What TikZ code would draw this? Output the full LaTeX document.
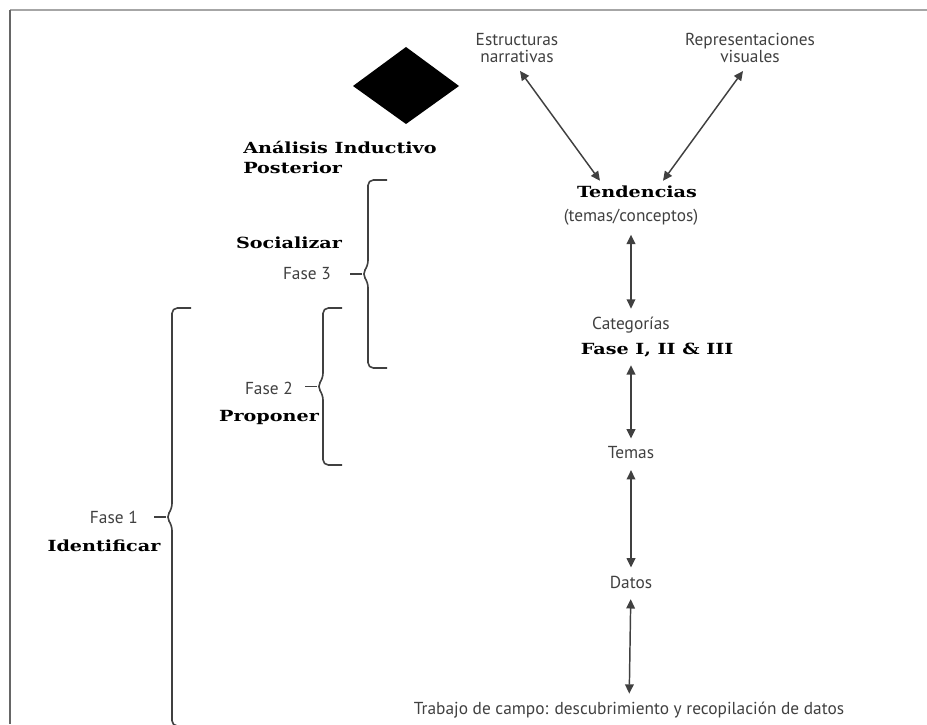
\documentclass[tikz,border=0pt]{standalone}
\usepackage{fontspec}
\setsansfont{PT Sans}
\newfontfamily\negrita{DejaVu Serif}[FakeStretch=1.25]
\usetikzlibrary{arrows.meta}

\newcommand{\llave}[3]
{   \draw[llave] ({#1+19},#2) -- (#1,#2) -- (#1,{(#2+#3)/2-8}) -- ({#1-6},{(#2+#3)/2}) -- (#1,{(#2+#3)/2+8}) -- (#1,#3) -- ({#1+19},#3);
    \draw[llave] ({#1-6},{(#2+#3)/2}) -- ({#1-18},{(#2+#3)/2});
}
\newcommand{\micolor}{black!75}

\begin{document}
\begin{tikzpicture}[x=0.75pt,y=-0.75pt,
  texto/.style={font=\sffamily\fontsize{13}{12.75}\selectfont, text=\micolor, inner sep=0pt, align=center},
  titulo/.style={font=\negrita\bfseries\fontsize{11.5}{15}\selectfont, inner sep=0pt, align=left},
  flecha/.style={{Triangle[length=7pt,width=6.5pt]}-{Triangle[length=7pt,width=6.5pt]}, draw=\micolor, line width=1.1pt},
  llave/.style={draw=\micolor, line width=1.2pt, rounded corners=4pt}]

 \useasboundingbox (0,0) rectangle (927,724);
 % marco
 \draw[black!35, line width=0.8pt] (10,10) -- (927,10);
 \draw[black!60, line width=2pt] (10,10) -- (10,724);

 % rombo
 \fill[black] (406,47) -- (459,86) -- (406,124) -- (353,86) -- cycle;
 \node[titulo, anchor=west] (analisis) at (243,157) {Análisis Inductivo\\Posterior};

 % columna derecha
 \node[texto] (estr) at (517,48) {Estructuras\\narrativas};
 \node[texto] (repr) at (750,48) {Representaciones\\visuales};
 \node[titulo] (tend) at (637,192) {Tendencias};
 \node[texto] (tcon) at (631,217) {(temas/conceptos)};
 \node[texto] (cat) at (631,325) {Categorías};
 \node[titulo] (fases) at (657,350) {Fase I, II \& III};
 \node[texto] (temas) at (631,453) {Temas};
 \node[texto] (datos) at (631,582) {Datos};
 \node[texto] (trabajo) at (629,710) {Trabajo de campo: descubrimiento y recopilación de datos};

 \draw[flecha] ([shift={(3,8)}]estr.south) -- ([shift={(-37,-5)}]tend.north);
 \draw[flecha] ([shift={(-7,8)}]repr.south) -- ([shift={(26,-5)}]tend.north);
 \draw[flecha, shorten <=7pt, shorten >=6pt] (tcon) -- (cat);
 \draw[flecha, shorten <=6pt, shorten >=6pt] (cat |- fases.south) -- (temas);
 \draw[flecha, shorten <=8pt, shorten >=6pt] (temas) -- (datos);
 \draw[flecha, shorten <=8pt, shorten >=6pt] (datos) -- (trabajo);

 % fases
 \llave{368}{180}{368}
 \llave{323}{308}{465}
 \llave{172}{308}{726}
 \node[titulo] (social) at (289,243) {Socializar};
 \node[texto, anchor=east] (fase3) at (331,274) {Fase 3};
 \node[texto, anchor=east] (fase2) at (293,388) {Fase 2};
 \node[titulo] (proponer) at (269,418) {Proponer};
 \node[texto, anchor=east] (fase1) at (138,517) {Fase 1};
 \node[titulo] (identificar) at (104,546) {Identificar};

\end{tikzpicture}
\end{document}
